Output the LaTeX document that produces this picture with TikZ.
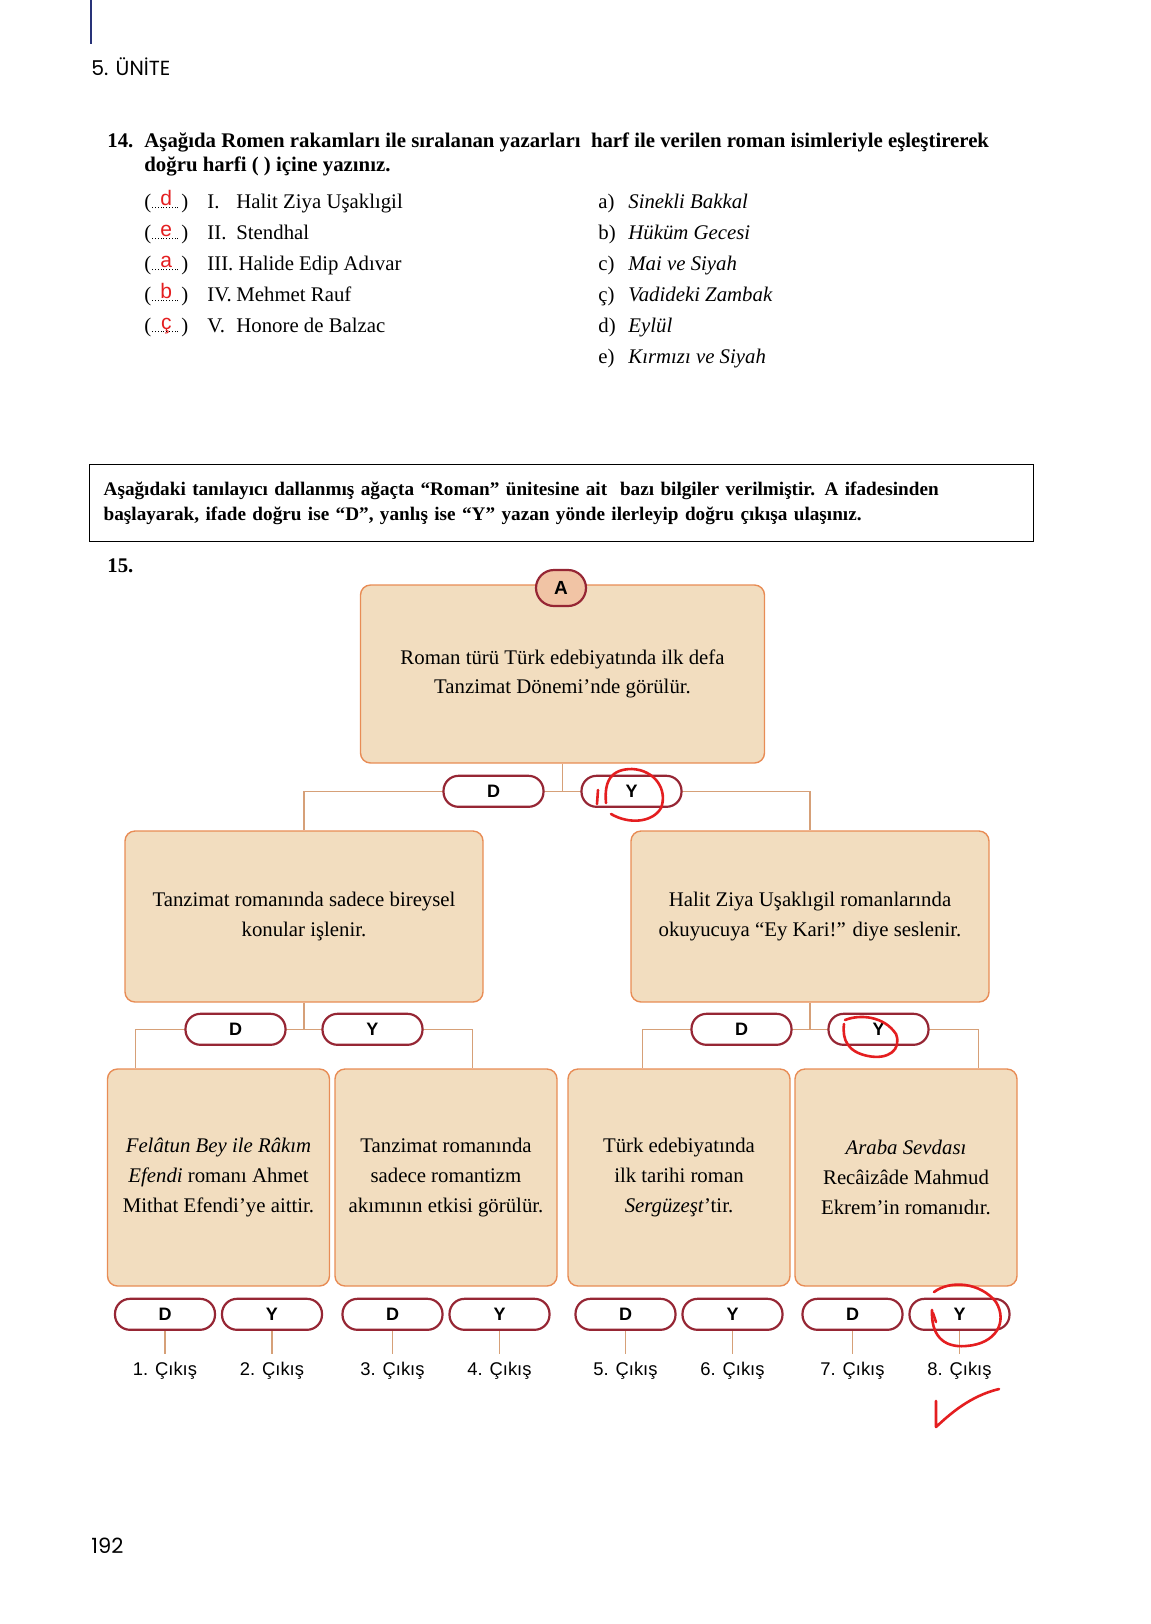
\documentclass[tikz,border=0pt]{standalone}
\usepackage{fontspec}
\setmainfont{Liberation Serif}
\setsansfont{Liberation Sans}
\newfontfamily\geofont{Poppins}
\usepackage{xcolor}
\usetikzlibrary{positioning,calc,backgrounds}

\definecolor{krem}{RGB}{242,221,191}
\definecolor{kenar}{RGB}{232,140,85}
\definecolor{bordo}{RGB}{150,38,52}
\definecolor{hapA}{RGB}{241,196,165}
\definecolor{hatrenk}{RGB}{214,160,120}
\definecolor{lacivert}{RGB}{40,50,120}
\definecolor{kirmizi}{RGB}{228,30,32}

\newcommand{\noktalar}{\leaders\hbox to 1.4pt{\hss\rule{0.45pt}{0.45pt}\hss}\hfill}
\newcommand{\harf}[1]{(\rlap{\makebox[15pt]{\noktalar}}\makebox[15pt]{\raisebox{1.5pt}{\textcolor{kirmizi}{\sffamily\fontsize{10.5}{11}\selectfont #1}}})}

\tikzset{
  kutu/.style={rectangle, draw=kenar, fill=krem, line width=0.7pt,
      rounded corners=5pt, align=center, inner sep=2pt,
      font=\fontsize{10.4}{14.8}\selectfont},
  hap/.style={rectangle, draw=bordo, fill=white, line width=1.1pt,
      rounded corners=7.5pt, minimum width=50pt, minimum height=15.5pt,
      inner sep=0pt, font=\sffamily\bfseries\fontsize{9}{10}\selectfont},
  cikis/.style={font=\sffamily\fontsize{9.2}{10}\selectfont, inner xsep=0pt,
      inner ysep=3.5pt, text height=6.8pt, text depth=2pt},
  satir/.style={anchor=base west, inner sep=0pt, font=\fontsize{10.4}{14}\selectfont},
  hat/.style={draw=hatrenk, line width=0.6pt},
  kalem/.style={draw=kirmizi, line width=1.3pt, line cap=round, line join=round}
}

\begin{document}
\begin{tikzpicture}[x=0.5pt, y=-0.5pt]
    \useasboundingbox (0,0) rectangle (1151,1624);

    % page head
    \draw[lacivert, line width=1.2pt] (91,0) -- (91,44);
    \node[satir, font=\geofont\fontsize{10.2}{12}\selectfont] (unite) at (91,75) {5. ÜNİTE};

    % question 14
    \node[satir, font=\bfseries\fontsize{10.4}{12.5}\selectfont] (s14) at (107,147) {14.};
    \node[satir, font=\bfseries\fontsize{10.4}{12.5}\selectfont] (s14a) at (144,147)
        {Aşağıda Romen rakamları ile sıralanan yazarları \ harf ile verilen roman isimleriyle eşleştirerek};
    \node[satir, font=\bfseries\fontsize{10.4}{12.5}\selectfont] (s14b) at (144,171)
        {doğru harfi ( ) içine yazınız.};

    \node[satir] (p1) at (144,208) {\harf{d}};
    \node[satir] (p2) at (144,239) {\harf{e}};
    \node[satir] (p3) at (144,270) {\harf{a}};
    \node[satir] (p4) at (144,301) {\harf{b}};
    \node[satir] (p5) at (144,332) {\harf{ç}};

    \node[satir] (y1) at (207,208) {\makebox[14.5pt][l]{I.}Halit Ziya Uşaklıgil};
    \node[satir] (y2) at (207,239) {\makebox[14.5pt][l]{II.}Stendhal};
    \node[satir] (y3) at (207,270) {III. Halide Edip Adıvar};
    \node[satir] (y4) at (207,301) {\makebox[14.5pt][l]{IV.}Mehmet Rauf};
    \node[satir] (y5) at (207,332) {\makebox[14.5pt][l]{V.}Honore de Balzac};

    \node[satir] (r1) at (598,208) {\makebox[15pt][l]{a)}\textit{Sinekli Bakkal}};
    \node[satir] (r2) at (598,239) {\makebox[15pt][l]{b)}\textit{Hüküm Gecesi}};
    \node[satir] (r3) at (598,270) {\makebox[15pt][l]{c)}\textit{Mai ve Siyah}};
    \node[satir] (r4) at (598,301) {\makebox[15pt][l]{ç)}\textit{Vadideki Zambak}};
    \node[satir] (r5) at (598,332) {\makebox[15pt][l]{d)}\textit{Eylül}};
    \node[satir] (r6) at (598,363) {\makebox[15pt][l]{e)}\textit{Kırmızı ve Siyah}};

    % instruction
    \node[draw, line width=0.7pt, anchor=north west, text width=458pt, inner xsep=7pt,
        minimum height=38.5pt, align=left, font=\bfseries\fontsize{9.6}{12.5}\selectfont]
        (yonerge) at (89,464)
        {Aşağıdaki tanılayıcı dallanmış ağaçta “Roman” ünitesine ait \ bazı bilgiler verilmiştir. A ifadesinden\\
         başlayarak, ifade doğru ise “D”, yanlış ise “Y” yazan yönde ilerleyip doğru çıkışa ulaşınız.};
    \node[satir, font=\bfseries\fontsize{10.4}{12.5}\selectfont] (s15) at (107,572) {15.};

    % tree
    \node[kutu, minimum width=202pt, minimum height=89pt] (kA) at (562.5,674)
        {Roman türü Türk edebiyatında ilk defa\\Tanzimat Dönemi’nde görülür.};
    \node[hap, fill=hapA, minimum width=25pt, minimum height=18pt, rounded corners=9pt,
        font=\sffamily\bfseries\fontsize{9.5}{10}\selectfont] (pA) at (561,588) {A};
    \node[hap, below=5.5pt of kA.south, xshift=-34.5pt] (pD0) {D};
    \node[hap, below=5.5pt of kA.south, xshift=34.5pt] (pY0) {Y};

    \node[kutu, minimum width=179pt, minimum height=85.5pt] (k1) at (304,916.5)
        {Tanzimat romanında sadece bireysel\\konular işlenir.};
    \node[kutu, minimum width=179pt, minimum height=85.5pt] (k2) at (810,916.5)
        {Halit Ziya Uşaklıgil romanlarında\\okuyucuya “Ey Kari!” diye seslenir.};
    \node[hap, below=5pt of k1.south, xshift=-34.25pt] (pD1) {D};
    \node[hap, below=5pt of k1.south, xshift=34.25pt] (pY1) {Y};
    \node[hap, below=5pt of k2.south, xshift=-34.25pt] (pD2) {D};
    \node[hap, below=5pt of k2.south, xshift=34.25pt] (pY2) {Y};

    \node[kutu, minimum width=111pt, minimum height=108.5pt] (b1) at (218.5,1177.5)
        {\textit{Felâtun Bey ile Râkım}\\\textit{Efendi} romanı Ahmet\\Mithat Efendi’ye aittir.};
    \node[kutu, minimum width=111pt, minimum height=108.5pt] (b2) at (446,1177.5)
        {Tanzimat romanında\\sadece romantizm\\akımının etkisi görülür.};
    \node[kutu, minimum width=111pt, minimum height=108.5pt] (b3) at (679,1177.5)
        {Türk edebiyatında\\ilk tarihi roman\\\textit{Sergüzeşt}’tir.};
    \node[kutu, minimum width=111pt, minimum height=108.5pt] (b4) at (906,1177.5)
        {\textit{Araba Sevdası}\\Recâizâde Mahmud\\Ekrem’in romanıdır.};

    % exits
    \node[hap, below=5.5pt of b1.south, xshift=-26.75pt] (e1) {D};
    \node[hap, below=5.5pt of b1.south, xshift=26.75pt] (e2) {Y};
    \node[hap, below=5.5pt of b2.south, xshift=-26.75pt] (e3) {D};
    \node[hap, below=5.5pt of b2.south, xshift=26.75pt] (e4) {Y};
    \node[hap, below=5.5pt of b3.south, xshift=-26.75pt] (e5) {D};
    \node[hap, below=5.5pt of b3.south, xshift=26.75pt] (e6) {Y};
    \node[hap, below=5.5pt of b4.south, xshift=-26.75pt] (e7) {D};
    \node[hap, below=5.5pt of b4.south, xshift=26.75pt] (e8) {Y};

    \node[cikis, below=11.7pt of e1] (c1) {1. Çıkış};
    \node[cikis, below=11.7pt of e2] (c2) {2. Çıkış};
    \node[cikis, below=11.7pt of e3] (c3) {3. Çıkış};
    \node[cikis, below=11.7pt of e4] (c4) {4. Çıkış};
    \node[cikis, below=11.7pt of e5] (c5) {5. Çıkış};
    \node[cikis, below=11.7pt of e6] (c6) {6. Çıkış};
    \node[cikis, below=11.7pt of e7] (c7) {7. Çıkış};
    \node[cikis, below=11.7pt of e8] (c8) {8. Çıkış};

    \coordinate (s1) at ($(k1.west |- pD1.center)+(11,0)$);
    \coordinate (s2) at ($(k1.east |- pD1.center)+(-11,0)$);
    \coordinate (s3) at ($(k2.west |- pD2.center)+(12,0)$);
    \coordinate (s4) at ($(k2.east |- pD2.center)+(-11,0)$);

    \begin{scope}[on background layer]
        \draw[hat] (kA.south) -- (kA.south |- pD0.center);
        \draw[hat] (k1.north) -- (k1.north |- pD0.center) -- (k2.north |- pD0.center) -- (k2.north);
        \draw[hat] (k1.south) -- (k1.south |- pD1.center);
        \draw[hat] (k2.south) -- (k2.south |- pD2.center);
        \draw[hat] (b1.north -| s1) -- (s1) -- (s2) -- (b2.north -| s2);
        \draw[hat] (b3.north -| s3) -- (s3) -- (s4) -- (b4.north -| s4);
        \draw[hat] (e1.south) -- (c1.north);
        \draw[hat] (e2.south) -- (c2.north);
        \draw[hat] (e3.south) -- (c3.north);
        \draw[hat] (e4.south) -- (c4.north);
        \draw[hat] (e5.south) -- (c5.north);
        \draw[hat] (e6.south) -- (c6.north);
        \draw[hat] (e7.south) -- (c7.north);
        \draw[hat] (e8.south) -- (c8.north);
    \end{scope}

    % pen marks
    \draw[kalem] (606,803) .. controls (604,781) and (611,769) .. (632,769)
        .. controls (655,770) and (668,790) .. (661,808)
        .. controls (653,822) and (630,825) .. (611,814);
    \draw[kalem] (598,790) -- (597,804);
    \draw[kalem] (845,1020) .. controls (860,1014) and (884,1016) .. (896,1034)
        .. controls (902,1050) and (888,1060) .. (868,1056)
        .. controls (848,1052) and (842,1040) .. (844,1024);
    \draw[kalem] (934,1292) .. controls (950,1280) and (980,1282) .. (996,1302)
        .. controls (1008,1322) and (996,1344) .. (966,1346)
        .. controls (942,1348) and (931,1334) .. (932,1310);
    \draw[kalem] (933,1313) -- (936,1322);
    \draw[kalem] (936,1401) -- (936,1427) .. controls (950,1414) and (970,1396) .. (999,1389);

    % page number
    \node[satir, font=\geofont\fontsize{10.5}{12}\selectfont] (sayfa) at (91,1553) {192};
\end{tikzpicture}
\end{document}
